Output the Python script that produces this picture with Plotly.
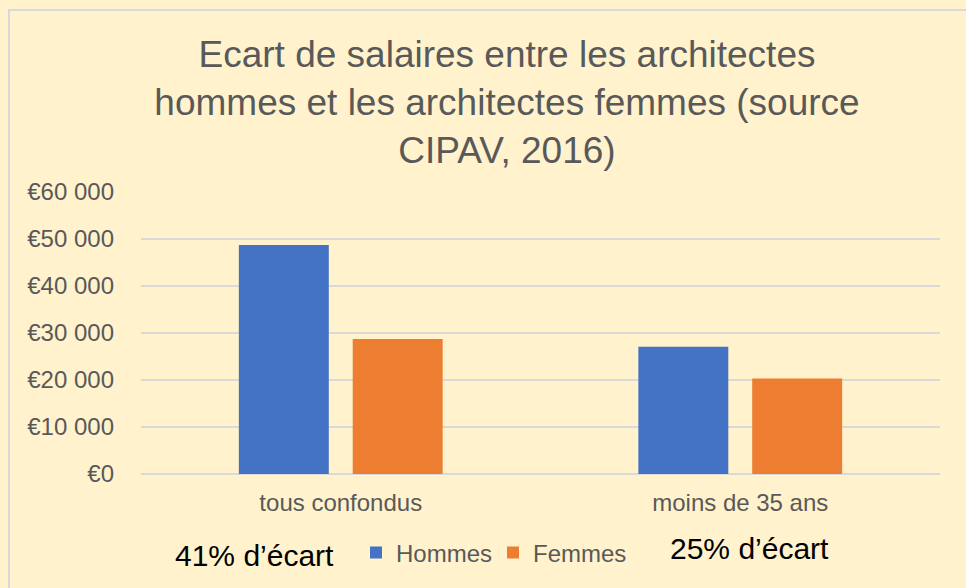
import plotly.graph_objects as go

categories = ["tous confondus", "moins de 35 ans"]
hommes = [48700, 27100]
femmes = [28700, 20300]
tick_vals = [0, 10000, 20000, 30000, 40000, 50000, 60000]
tick_text = ["€0", "€10 000", "€20 000", "€30 000", "€40 000", "€50 000", "€60 000"]
gap_labels = ["41% d’écart", "25% d’écart"]

W, H = 966, 588
L, R, T, B = 141, 26, 192, 114
FONT = "Liberation Sans, Arial, sans-serif"
GREY = "#595959"
BG = "#FFF2CC"

fig = go.Figure()
fig.add_trace(go.Bar(name="Hommes", x=categories, y=hommes, marker_color="#4472C4", marker_line_width=0))
fig.add_trace(go.Bar(name="Femmes", x=categories, y=femmes, marker_color="#ED7D31", marker_line_width=0))

pw = W - L - R
ph = H - T - B

def px_x(x):
    return (x - L) / pw

def px_y(y):
    return (H - B - y) / ph

fig.update_layout(
    width=W, height=H,
    margin=dict(l=L, r=R, t=T, b=B, pad=0),
    paper_bgcolor=BG,
    plot_bgcolor=BG,
    barmode="group",
    bargap=0.43,
    bargroupgap=0.21,
    font=dict(family=FONT, color=GREY, size=24),
    title=dict(
        text="Ecart de salaires entre les architectes<br>hommes et les architectes femmes (source<br>CIPAV, 2016)",
        font=dict(family=FONT, size=37, color=GREY),
        x=507 / W, xanchor="center", xref="container",
        y=1 - 67 / H, yanchor="middle", yref="container",
    ),
    showlegend=True,
    legend=dict(
        orientation="h",
        x=px_x(356), xanchor="left",
        y=px_y(553), yanchor="middle",
        font=dict(family=FONT, size=24, color=GREY),
        bgcolor="rgba(0,0,0,0)",
        traceorder="normal",
        entrywidth=92, entrywidthmode="pixels",
    ),
    shapes=[dict(type="rect", xref="paper", yref="paper",
                 x0=px_x(9), x1=px_x(1005), y0=px_y(10), y1=px_y(600),
                 line=dict(color="#D9D9D9", width=2), fillcolor="rgba(0,0,0,0)", layer="below")],
)

fig.update_xaxes(showgrid=False, showline=False, zeroline=False, ticks="",
                 tickfont=dict(size=24, color=GREY), ticklabelstandoff=12)
fig.update_yaxes(range=[0, 60000], tickvals=tick_vals, ticktext=tick_text,
                 showgrid=True, gridcolor="#D9D9D9", gridwidth=1.5,
                 zeroline=True, zerolinecolor="#D9D9D9", zerolinewidth=1.5,
                 showline=False, ticks="", tickfont=dict(size=24, color=GREY),
                 ticklabelstandoff=26)

ann_pos = [(254, 555), (749.5, 548)]
for txt, (ax, ay) in zip(gap_labels, ann_pos):
    fig.add_annotation(text=txt, xref="paper", yref="paper", x=px_x(ax), y=px_y(ay),
                       xanchor="center", yanchor="middle", showarrow=False,
                       font=dict(family=FONT, size=30, color="#000000"))

fig.write_html("out.html", config={"displayModeBar": False},
               post_script="document.body.style.margin='0';document.body.style.background='" + BG + "';")
